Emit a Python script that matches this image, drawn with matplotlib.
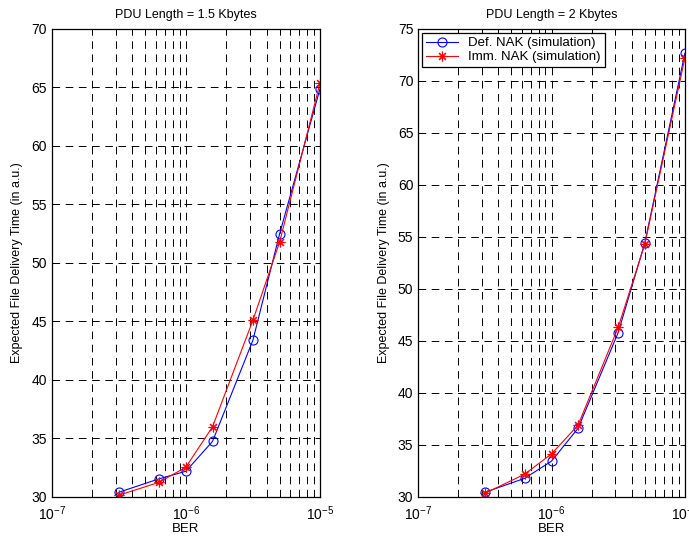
import numpy as np
import matplotlib.pyplot as plt

plt.rcParams['font.family'] = ['Liberation Sans', 'DejaVu Sans']
plt.rcParams['lines.scale_dashes'] = False

# BER points (same for both panels)
ber = [3.16e-7, 6.3e-7, 1e-6, 1.58e-6, 3.16e-6, 5e-6, 1e-5]

# PDU length = 1.5 Kbytes
def_nak_15 = [30.4, 31.55, 32.2, 34.75, 43.4, 52.5, 64.9]
imm_nak_15 = [30.15, 31.25, 32.55, 36.0, 45.1, 51.8, 65.4]

# PDU length = 2 Kbytes
def_nak_2 = [30.45, 31.8, 33.45, 36.6, 45.8, 54.4, 72.65]
imm_nak_2 = [30.35, 32.2, 34.15, 36.9, 46.3, 54.3, 72.2]

titles = ['PDU Length = 1.5 Kbytes', 'PDU Length = 2 Kbytes']
ylims = [(30, 70), (30, 75)]

fig = plt.figure(figsize=(6.89, 5.37), dpi=100)
ax1 = fig.add_axes([0.075, 0.0745, 0.3895, 0.8715])
ax2 = fig.add_axes([0.607, 0.0745, 0.387, 0.8715])

star = (8, 2, 0)
for ax, d, i, t, yl in zip([ax1, ax2], [def_nak_15, def_nak_2],
                           [imm_nak_15, imm_nak_2], titles, ylims):
    ax.semilogx(ber, d, color='blue', marker='o', mfc='none', ms=6.5,
                lw=0.8, mew=0.8, label='Def. NAK (simulation)')
    ax.semilogx(ber, i, color='red', marker=star, ms=7,
                lw=0.8, mew=0.8, label='Imm. NAK (simulation)')
    ax.set_xlim(1e-7, 1e-5)
    ax.set_ylim(*yl)
    ax.set_yticks(np.arange(yl[0], yl[1] + 1, 5))
    ax.grid(True, which='both', axis='x', color='black', lw=0.7,
            linestyle=(0, (5.5, 4)))
    ax.grid(True, which='major', axis='y', color='black', lw=0.7,
            linestyle=(0, (5.5, 4)))
    ax.tick_params(which='both', direction='in', top=True, right=True,
                   labelsize=10, width=0.6)
    ax.tick_params(axis='x', pad=5)
    for s in ax.spines.values():
        s.set_linewidth(0.9)
    ax.set_title(t, fontsize=9, pad=8)
    ax.set_xlabel('BER', fontsize=9.5, labelpad=0)
    ax.set_ylabel('Expected File Delivery Time (in a.u.)', fontsize=9,
                  labelpad=6)

leg = ax2.legend(loc='upper left', fontsize=9.5, fancybox=False,
                 framealpha=1, edgecolor='black', borderaxespad=0.3,
                 handlelength=2.4, borderpad=0.3, labelspacing=0.15)
leg.get_frame().set_linewidth(0.9)

plt.savefig('out.png', dpi=100)
